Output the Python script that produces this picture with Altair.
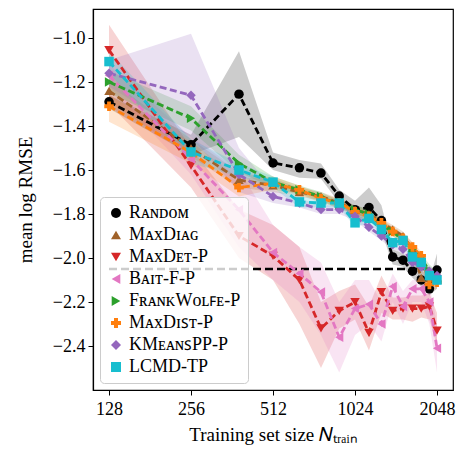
import altair as alt
import pandas as pd

# Training set sizes
N = [128, 256, 384, 512, 640, 768, 896, 1024, 1152, 1280, 1408, 1536, 1664, 1792, 1920, 2048]

names = ["Rᴀɴᴅᴏᴍ", "MᴀxDɪᴀɢ", "MᴀxDᴇᴛ-P", "Bᴀɪᴛ-F-P", "FʀᴀɴᴋWᴏʟꜰᴇ-P",
         "MᴀxDɪꜱᴛ-P", "KMᴇᴀɴꜱPP-P", "LCMD-TP"]
colors = ["#000000", "#a0622a", "#d62728", "#e377c2", "#2ca02c", "#ff7f0e", "#9467bd", "#17becf"]
shapes = ["circle", "triangle-up", "triangle-down", "triangle-left", "triangle-right",
          "cross", "diamond", "square"]

random_mean = [-1.29, -1.485, -1.255, -1.568, -1.59, -1.614, -1.718, -1.78, -1.77, -1.83, -1.995, -2.01, -2.06, -2.10, -2.14, -2.055]
random_hi = [-1.26, -1.44, -1.06, -1.52, -1.555, -1.57, -1.69, -1.74, -1.68, -1.76, -1.96, -1.98, -2.02, -2.05, -2.10, -1.98]
random_lo = [-1.32, -1.53, -1.45, -1.60, -1.635, -1.64, -1.75, -1.82, -1.83, -1.88, -2.03, -2.04, -2.09, -2.13, -2.17, -2.14]

maxdiag_mean = [-1.24, -1.50, -1.645, -1.67, -1.70, -1.72, -1.75, -1.78, -1.80, -1.84, -1.87, -1.90, -1.96, -2.09, -2.09, -2.09]
maxdiag_hi = [-1.19, -1.46, -1.61, -1.64, -1.68, -1.70, -1.73, -1.76, -1.78, -1.82, -1.85, -1.88, -1.93, -2.06, -2.06, -2.06]
maxdiag_lo = [-1.29, -1.54, -1.68, -1.70, -1.72, -1.74, -1.77, -1.80, -1.82, -1.86, -1.89, -1.92, -1.99, -2.12, -2.12, -2.12]

maxdet_mean = [-1.055, -1.58, -1.90, -1.99, -2.10, -2.32, -2.24, -2.20, -2.34, -2.155, -2.24, -2.23, -2.23, -2.23, -2.22, -2.33]
maxdet_hi = [-0.94, -1.50, -1.78, -1.85, -1.95, -2.20, -2.15, -2.12, -2.22, -2.08, -2.18, -2.18, -2.17, -2.17, -2.16, -2.25]
maxdet_lo = [-1.30, -1.68, -2.00, -2.10, -2.30, -2.50, -2.32, -2.28, -2.42, -2.25, -2.28, -2.28, -2.29, -2.27, -2.28, -2.40]

bait_mean = [-1.17, -1.55, -1.78, -1.975, -2.07, -2.155, -2.36, -2.23, -2.21, -2.30, -2.13, -2.22, -2.14, -2.14, -2.20, -2.41]
bait_hi = [-1.12, -1.45, -1.60, -1.85, -1.95, -2.02, -2.20, -2.10, -2.10, -2.20, -2.07, -2.15, -2.10, -2.10, -2.12, -2.30]
bait_lo = [-1.22, -1.62, -1.95, -2.10, -2.20, -2.35, -2.52, -2.35, -2.30, -2.38, -2.20, -2.30, -2.20, -2.20, -2.30, -2.52]

fw_mean = [-1.20, -1.365, -1.57, -1.655, -1.69, -1.72, -1.76, -1.78, -1.80, -1.85, -1.88, -1.92, -1.96, -2.00, -2.06, -2.09]
fw_hi = [-1.15, -1.31, -1.53, -1.63, -1.67, -1.70, -1.74, -1.76, -1.78, -1.83, -1.86, -1.90, -1.94, -1.98, -2.03, -2.06]
fw_lo = [-1.25, -1.42, -1.61, -1.68, -1.71, -1.74, -1.78, -1.80, -1.82, -1.87, -1.90, -1.94, -1.98, -2.02, -2.09, -2.12]

maxdist_mean = [-1.31, -1.52, -1.68, -1.66, -1.69, -1.73, -1.75, -1.79, -1.81, -1.84, -1.88, -1.91, -1.95, -1.99, -2.12, -2.11]
maxdist_hi = [-1.26, -1.47, -1.64, -1.63, -1.67, -1.71, -1.73, -1.77, -1.79, -1.82, -1.86, -1.89, -1.93, -1.97, -2.09, -2.08]
maxdist_lo = [-1.38, -1.57, -1.72, -1.69, -1.71, -1.75, -1.77, -1.81, -1.83, -1.86, -1.90, -1.93, -1.97, -2.01, -2.15, -2.14]

kmeans_mean = [-1.16, -1.26, -1.62, -1.72, -1.75, -1.78, -1.78, -1.81, -1.86, -1.90, -1.94, -1.96, -2.02, -2.04, -2.06, -2.08]
kmeans_hi = [-1.10, -0.98, -1.50, -1.69, -1.73, -1.76, -1.76, -1.79, -1.84, -1.88, -1.92, -1.94, -2.00, -2.02, -2.04, -2.05]
kmeans_lo = [-1.22, -1.45, -1.70, -1.75, -1.77, -1.80, -1.80, -1.83, -1.88, -1.92, -1.96, -1.98, -2.04, -2.06, -2.08, -2.11]

lcmd_mean = [-1.107, -1.518, -1.60, -1.655, -1.745, -1.75, -1.75, -1.84, -1.82, -1.87, -1.93, -1.92, -1.995, -2.02, -2.08, -2.10]
lcmd_hi = [-1.06, -1.46, -1.57, -1.63, -1.72, -1.73, -1.73, -1.82, -1.80, -1.85, -1.91, -1.90, -1.97, -2.00, -2.05, -2.07]
lcmd_lo = [-1.16, -1.57, -1.63, -1.68, -1.77, -1.77, -1.77, -1.86, -1.84, -1.89, -1.95, -1.94, -2.02, -2.04, -2.11, -2.13]

reference_level = [-2.05]

means = [random_mean, maxdiag_mean, maxdet_mean, bait_mean, fw_mean, maxdist_mean, kmeans_mean, lcmd_mean]
his = [random_hi, maxdiag_hi, maxdet_hi, bait_hi, fw_hi, maxdist_hi, kmeans_hi, lcmd_hi]
los = [random_lo, maxdiag_lo, maxdet_lo, bait_lo, fw_lo, maxdist_lo, kmeans_lo, lcmd_lo]

rows = []
for k, name in enumerate(names):
    for i, n in enumerate(N):
        rows.append({"method": name, "k": k, "N": n, "mean": means[k][i],
                     "hi": his[k][i], "lo": los[k][i]})
df = pd.DataFrame(rows)
ref = pd.DataFrame({"y": reference_level, "x0": [N[0]], "x1": [N[-1]]})

xscale = alt.Scale(type="log", base=2, domain=[111.8, 2344], nice=False)
yscale = alt.Scale(domain=[-2.6, -0.868], nice=False, zero=False)
cscale = alt.Scale(domain=names, range=colors)
sscale = alt.Scale(domain=names, range=shapes)

xax = alt.Axis(values=[128, 256, 512, 1024, 2048], format="d", title="Training set size 𝑁ₜᵣₐᵢₙ",
               tickSize=5, labelPadding=5, titlePadding=7, grid=False)
yax = alt.Axis(values=[-1.0, -1.2, -1.4, -1.6, -1.8, -2.0, -2.2, -2.4], format=".1f",
               title="mean log RMSE", tickSize=5, labelPadding=3, titlePadding=17, grid=False)

leg = alt.Legend(title=None, orient="none", legendX=7, legendY=188,
                 labelFont="Liberation Serif", labelFontSize=18,
                 symbolSize=100, rowPadding=4, padding=7,
                 strokeColor="#cccccc", cornerRadius=4,
                 fillColor="rgba(255,255,255,0.8)",
                 symbolStrokeWidth=0, labelColor="black", symbolOpacity=1)

color_enc = alt.Color("method:N", scale=cscale, sort=names, legend=leg)

base = alt.Chart(df)

bands = base.mark_area(opacity=0.2, interpolate="linear").encode(
    x=alt.X("N:Q", scale=xscale, axis=xax),
    y=alt.Y("hi:Q", scale=yscale, axis=yax),
    y2="lo:Q",
    color=color_enc,
    detail="method:N",
)

hline = alt.Chart(ref).mark_rule(color="black", strokeWidth=2.4, strokeDash=[8, 4]).encode(
    x="x0:Q", x2="x1:Q", y="y:Q"
)

lines = base.mark_line(strokeWidth=2.8, strokeDash=[7, 3.5]).encode(
    x="N:Q",
    y="mean:Q",
    color=color_enc,
    detail="method:N",
)

points = base.mark_point(filled=True, opacity=1, size=90).encode(
    x="N:Q",
    y="mean:Q",
    color=color_enc,
    shape=alt.Shape("method:N", scale=sscale, sort=names, legend=leg),
    order="k:Q",
)

chart = alt.layer(bands, hline, lines, points).properties(
    width=360, height=381,
    autosize=alt.AutoSizeParams(type="none"),
    padding={"left": 85, "top": 1, "right": 8, "bottom": 58},
).configure_view(stroke="black", strokeWidth=1.2).configure_axis(
    labelFont="Liberation Serif", labelFontSize=18, labelColor="black",
    titleFont="Liberation Serif", titleFontSize=19, titleFontWeight="normal", titleColor="black",
    tickColor="black", domainColor="black", domainWidth=1.2,
)

chart.save("out.html", embed_options={"renderer": "svg", "actions": False})
